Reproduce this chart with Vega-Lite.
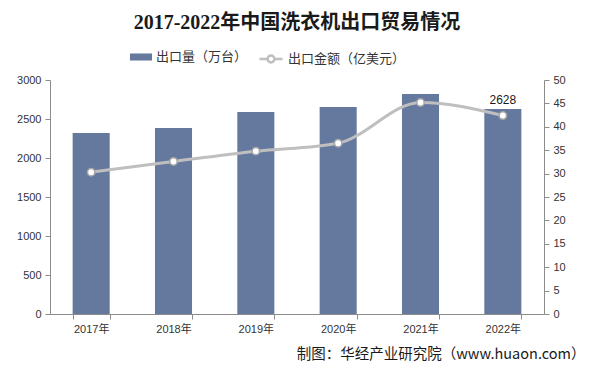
{
  "$schema": "https://vega.github.io/schema/vega-lite/v6.json",
  "width": 494,
  "height": 234,
  "autosize": "none",
  "padding": {"left": 50, "top": 80, "right": 52, "bottom": 60},
  "background": "white",
  "config": {
    "view": {"stroke": null},
    "font": "Liberation Sans, Noto Sans CJK SC",
    "axis": {
      "domainColor": "#8c8c8c",
      "tickColor": "#8c8c8c",
      "tickSize": 5,
      "labelColor": "#333333",
      "labelFontSize": 11,
      "labelFont": "Liberation Sans, Noto Sans CJK SC",
      "labelOverlap": false,
      "grid": false
    }
  },
  "title": {
    "text": "2017-2022年中国洗衣机出口贸易情况",
    "font": "Liberation Serif, Noto Sans CJK SC",
    "fontSize": 20,
    "fontWeight": "bold",
    "color": "#1a1a1a",
    "anchor": "middle",
    "frame": "group",
    "baseline": "bottom",
    "offset": -7
  },
  "data": {
    "values": [
      {"year": "2017年", "volume": 2321, "value": 30.3},
      {"year": "2018年", "volume": 2385, "value": 32.6},
      {"year": "2019年", "volume": 2589, "value": 34.8},
      {"year": "2020年", "volume": 2655, "value": 36.5},
      {"year": "2021年", "volume": 2820, "value": 45.2},
      {"year": "2022年", "volume": 2628, "value": 42.4}
    ]
  },
  "encoding": {
    "x": {
      "field": "year",
      "type": "nominal",
      "sort": null,
      "scale": {"paddingInner": 0.55, "paddingOuter": 0.275},
      "axis": {
        "labelAngle": 0,
        "tickBand": "extent",
        "labelPadding": 4,
        "title": "制图：华经产业研究院（www.huaon.com）",
        "titleFont": "Noto Sans CJK SC",
        "titleFontSize": 14.5,
        "titleFontWeight": "normal",
        "titleColor": "#1a1a1a",
        "titleAlign": "right",
        "titleBaseline": "middle",
        "titleX": 535,
        "titleY": 40
      }
    }
  },
  "layer": [
    {
      "encoding": {
        "y": {
          "field": "volume",
          "type": "quantitative",
          "scale": {"domain": [0, 3000], "nice": false},
          "axis": {"title": null, "orient": "left", "format": "d", "values": [0, 500, 1000, 1500, 2000, 2500, 3000], "labelOverlap": false, "labelPadding": 4}
        }
      },
      "layer": [
        {
          "mark": {"type": "bar", "color": "#65799F"},
          "encoding": {
            "fill": {
              "datum": "出口量（万台）",
              "scale": {"range": ["#65799F"]},
              "legend": {
                "title": null,
                "orient": "none",
                "legendX": 80,
                "legendY": -34,
                "symbolType": "M-1,-0.32H1V0.32H-1Z",
                "symbolSize": 484,
                "symbolStrokeWidth": 0,
                "labelFont": "Noto Sans CJK SC",
                "labelFontSize": 13,
                "labelColor": "#333333"
              }
            }
          }
        },
        {
          "transform": [{"filter": "datum.year === '2022年'"}],
          "mark": {"type": "text", "dy": -9, "fontSize": 12, "color": "#1a1a1a", "font": "Liberation Sans"},
          "encoding": {
            "text": {"field": "volume", "type": "quantitative", "format": "d"}
          }
        }
      ]
    },
    {
      "encoding": {
        "y": {
          "field": "value",
          "type": "quantitative",
          "scale": {"domain": [0, 50], "nice": false},
          "axis": {"title": null, "orient": "right", "values": [0, 5, 10, 15, 20, 25, 30, 35, 40, 45, 50], "labelOverlap": false, "labelPadding": 4}
        }
      },
      "layer": [
        {
          "mark": {"type": "line", "interpolate": "monotone", "strokeWidth": 3, "color": "#BFBFBF"},
          "encoding": {
            "stroke": {
              "datum": "出口金额（亿美元）",
              "scale": {"range": ["#BFBFBF"]},
              "legend": {
                "title": null,
                "orient": "none",
                "legendX": 208,
                "legendY": -34,
                "symbolType": "M-1,0H-0.3M0.3,0H1M0.3,0A0.3,0.3,0,1,1,-0.3,0A0.3,0.3,0,1,1,0.3,0",
                "symbolSize": 529,
                "symbolStrokeWidth": 2.5,
                "symbolFillColor": "white",
                "labelFont": "Noto Sans CJK SC",
                "labelFontSize": 13,
                "labelColor": "#333333"
              }
            }
          }
        },
        {
          "mark": {"type": "point", "filled": true, "fill": "white", "stroke": "#A6A6A6", "strokeWidth": 1.5, "size": 55, "opacity": 1}
        }
      ]
    }
  ],
  "resolve": {"scale": {"y": "independent", "fill": "independent", "stroke": "independent"}}
}
